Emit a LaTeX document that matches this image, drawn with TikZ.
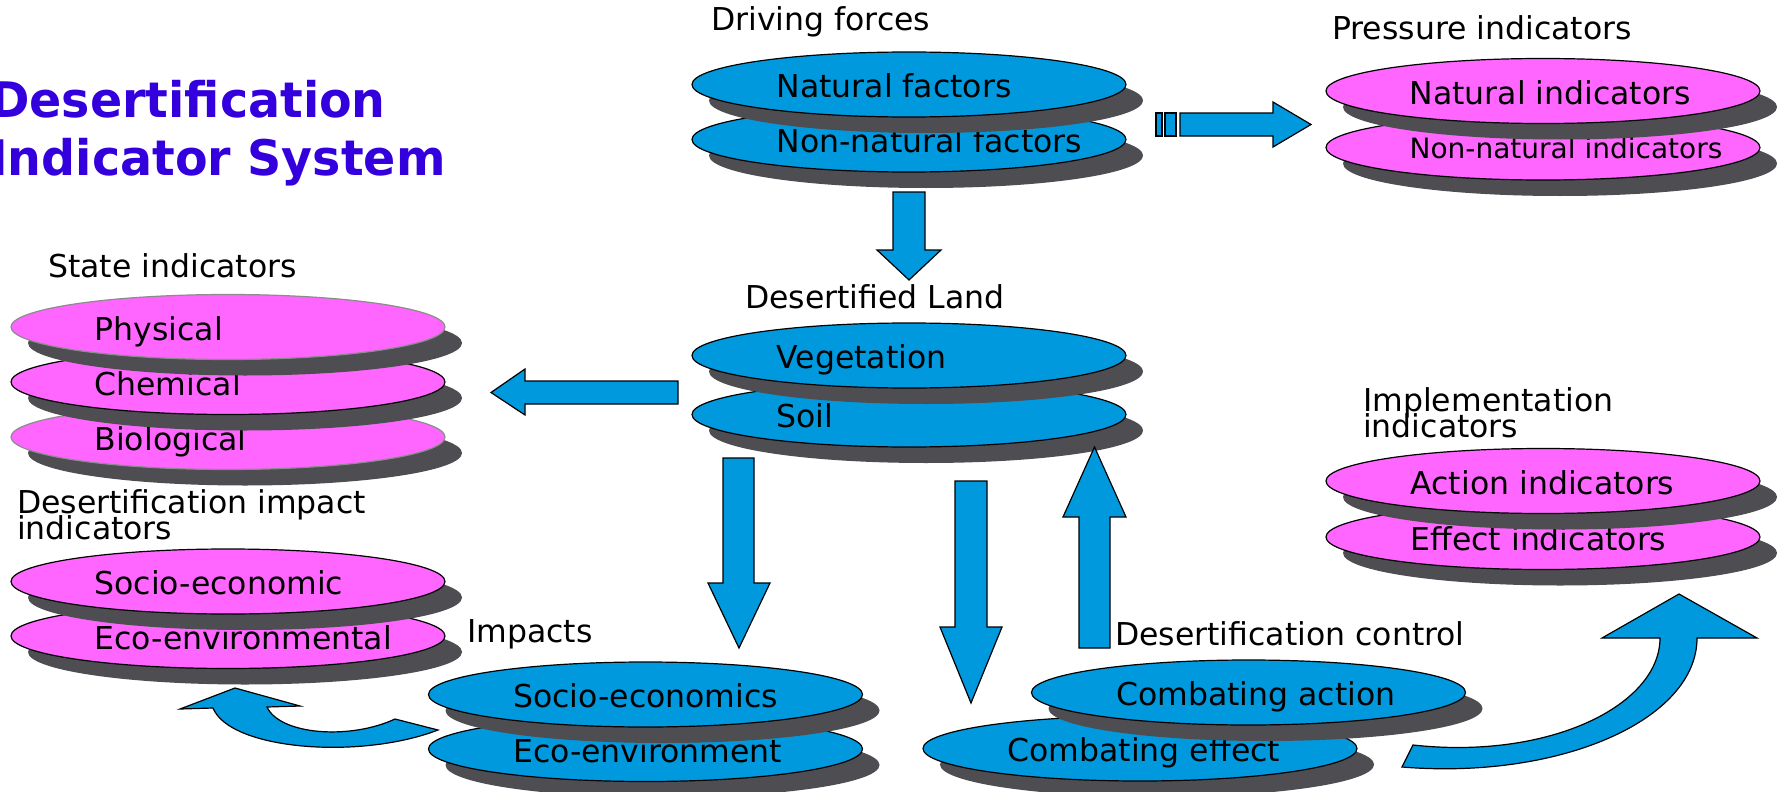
\documentclass[tikz,border=0pt]{standalone}
\usepackage{fontspec}
\setmainfont{DejaVu Sans}
\newfontfamily\titlefont{DejaVu Sans}[FakeStretch=0.97]
\usetikzlibrary{shapes.geometric,shadows}
\definecolor{ellblue}{RGB}{0,153,221}
\definecolor{ellpink}{RGB}{255,102,255}
\definecolor{shgray}{RGB}{77,77,82}
\definecolor{titleblue}{RGB}{51,0,221}
\definecolor{rimgray}{RGB}{140,140,140}
\tikzset{
  ellbase/.style={ellipse, minimum width=434pt, minimum height=65pt, inner sep=0pt,
    draw=black, line width=1.2pt,
    drop shadow={shadow xshift=17pt, shadow yshift=-16pt, fill=shgray, opacity=1}},
  blueell/.style={ellbase, fill=ellblue},
  pinkell/.style={ellbase, fill=ellpink},
  grayrim/.style={draw=rimgray},
  intext/.style={anchor=base west, inner sep=0pt, font=\fontsize{31.5}{36}\selectfont},
  lbl/.style={anchor=base west, inner sep=0pt, font=\fontsize{31.5}{36}\selectfont},
  lbltwo/.style={anchor=base west, inner sep=0pt, align=left,
    font={\fontsize{31.5}{26}\selectfont\lineskiplimit=-100pt\lineskip=0pt}},
  blockarrow/.style={fill=ellblue, draw=black, line width=1.2pt, line join=miter},
}
\begin{document}
\begin{tikzpicture}[x=1pt,y=-1pt]
\useasboundingbox (0,0) rectangle (1783,792);
\fill[white] (0,0) rectangle (1783,792);

% title (anchor base = baseline of the last line)
\node[anchor=base west, inner sep=0pt, align=left, text=titleblue,
  font=\titlefont\bfseries\fontsize{49}{58}\selectfont] (title) at (-10,175)
  {Desertification\\Indicator System};

% group labels
\node[lbl] (drv) at (711,31) {Driving forces};
\node[lbl] (prs) at (1332,40) {Pressure indicators};
\node[lbl] (des) at (745,308) {Desertified Land};
\node[lbl] (sta) at (48,277) {State indicators};
\node[lbltwo] (imi) at (17,539) {Desertification impact\\indicators};
\node[lbl] (imp) at (467,642) {Impacts};
\node[lbl] (ctl) at (1115,645) {Desertification control};
\node[lbltwo] (imn) at (1363,437) {Implementation\\indicators};

% Driving forces
\node[blueell] (nonnat) at (909,139.5) {};
\node[intext] (nonnatT) at ([xshift=85pt,yshift=-13pt]nonnat.west) {Non-natural factors};
\node[blueell] (nat) at (909,84.5) {};
\node[intext] (natT) at ([xshift=85pt,yshift=-13pt]nat.west) {Natural factors};

% Pressure indicators
\node[pinkell] (nonnatind) at (1543,147.5) {};
\node[intext, font=\fontsize{28}{32}\selectfont] (nonnatindT) at ([xshift=84pt,yshift=-11pt]nonnatind.west) {Non-natural indicators};
\node[pinkell] (natind) at (1543,91) {};
\node[intext] (natindT) at ([xshift=84pt,yshift=-13pt]natind.west) {Natural indicators};

% Desertified land
\node[blueell] (soil) at (909,414.5) {};
\node[intext] (soilT) at ([xshift=85pt,yshift=-13pt]soil.west) {Soil};
\node[blueell] (veg) at (909,355.5) {};
\node[intext] (vegT) at ([xshift=85pt,yshift=-13pt]veg.west) {Vegetation};

% State indicators
\node[pinkell, grayrim] (bio) at (228,437) {};
\node[intext] (bioT) at ([xshift=84pt,yshift=-13pt]bio.west) {Biological};
\node[pinkell] (chem) at (228,382) {};
\node[intext] (chemT) at ([xshift=84pt,yshift=-13pt]chem.west) {Chemical};
\node[pinkell, grayrim] (phys) at (228,327) {};
\node[intext] (physT) at ([xshift=84pt,yshift=-13pt]phys.west) {Physical};

% Impact indicators
\node[pinkell] (ecoind) at (228,636) {};
\node[intext] (ecoindT) at ([xshift=84pt,yshift=-13pt]ecoind.west) {Eco-environmental};
\node[pinkell] (socioind) at (228,581.5) {};
\node[intext] (socioindT) at ([xshift=84pt,yshift=-13pt]socioind.west) {Socio-economic};

% Impacts
\node[blueell] (eco) at (645.5,749) {};
\node[intext] (ecoT) at ([xshift=85pt,yshift=-13pt]eco.west) {Eco-environment};
\node[blueell] (socio) at (645.5,694.5) {};
\node[intext] (socioT) at ([xshift=85pt,yshift=-13pt]socio.west) {Socio-economics};

% Desertification control
\node[blueell] (effect) at (1140,748.5) {};
\node[intext] (effectT) at ([xshift=85pt,yshift=-13pt]effect.west) {Combating effect};
\node[blueell] (action) at (1248.5,692.5) {};
\node[intext] (actionT) at ([xshift=85pt,yshift=-13pt]action.west) {Combating action};

% Implementation indicators
\node[pinkell] (effind) at (1543,537) {};
\node[intext] (effindT) at ([xshift=85pt,yshift=-13pt]effind.west) {Effect indicators};
\node[pinkell] (actind) at (1543,481) {};
\node[intext] (actindT) at ([xshift=85pt,yshift=-13pt]actind.west) {Action indicators};

% block arrows
% driving -> pressure
\draw[blockarrow] (1156,113) rectangle (1162,136);
\draw[blockarrow] (1165,113) rectangle (1176,136);
\draw[blockarrow] (1180,113) -- (1273,113) -- (1273,102) -- (1311,124.5) -- (1273,147) -- (1273,136) -- (1180,136) -- cycle;
% driving -> desertified land
\draw[blockarrow] (893,192) -- (925,192) -- (925,250) -- (941,250) -- (909,280) -- (877,250) -- (893,250) -- cycle;
% desertified land -> state indicators
\draw[blockarrow] (678,381) -- (525,381) -- (525,369) -- (491,392.5) -- (525,415) -- (525,404) -- (678,404) -- cycle;
% desertified land -> impacts
\draw[blockarrow] (723,458) -- (754,458) -- (754,583) -- (770,583) -- (739,648) -- (708,583) -- (723,583) -- cycle;
% desertified land -> combating effect
\draw[blockarrow] (955,481) -- (987,481) -- (987,627) -- (1002,627) -- (971,703) -- (940,627) -- (955,627) -- cycle;
% combating action -> desertified land
\draw[blockarrow] (1079,648) -- (1110,648) -- (1110,517) -- (1126,517) -- (1094.5,447) -- (1063,517) -- (1079,517) -- cycle;
% control -> implementation (curved)
\draw[blockarrow] (1402,767) .. controls (1560,780) and (1697,720) .. (1697,638)
  -- (1757,638) -- (1679,594) -- (1602,638) -- (1660,638)
  .. controls (1660,705) and (1550,760) .. (1413,745) -- cycle;
% impacts -> impact indicators (curved)
\draw[blockarrow] (213,708) -- (180,709) -- (235,688) -- (300,706) -- (267,707)
  .. controls (280,735) and (350,740) .. (395,719) -- (438,730)
  .. controls (360,760) and (230,750) .. (213,708) -- cycle;
\end{tikzpicture}
\end{document}
